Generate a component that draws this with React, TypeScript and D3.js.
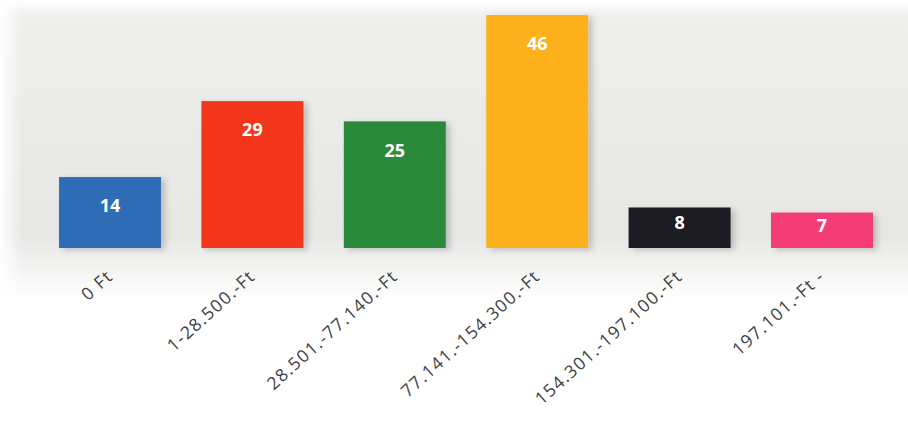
import React from "react";
import * as d3 from "d3";

const categories = [
  "0 Ft",
  "1-28.500.-Ft",
  "28.501.-77.140.-Ft",
  "77.141.-154.300.-Ft",
  "154.301.-197.100.-Ft",
  "197.101.-Ft -",
];
const values = [14, 29, 25, 46, 8, 7];
const colors = ["#2e6db5", "#f3361f", "#2b8a3a", "#fdb11d", "#1d1d22", "#f43d78"];

const W = 908;
const H = 428;

export default function App() {
  const x = d3
    .scaleBand<string>()
    .domain(categories)
    .range([38.8, 893.2])
    .paddingInner(0.284)
    .paddingOuter(0.142);
  const y = d3.scaleLinear().domain([0, 46]).range([248, 15]);
  const bw = x.bandwidth();

  return (
    <svg
      width={W}
      height={H}
      style={{ position: "absolute", left: 0, top: 0, background: "#fff" }}
    >
      <defs>
        <linearGradient id="bgv" x1="0" y1="0" x2="0" y2="1">
          <stop offset="0" stopColor="#ffffff" />
          <stop offset="0.06" stopColor="#eeeeec" />
          <stop offset="0.78" stopColor="#e7e7e5" />
          <stop offset="0.9" stopColor="#f4f4f3" />
          <stop offset="1" stopColor="#ffffff" />
        </linearGradient>
        <linearGradient id="bgh" x1="0" y1="0" x2="1" y2="0">
          <stop offset="0" stopColor="#fff" stopOpacity="1" />
          <stop offset="0.025" stopColor="#fff" stopOpacity="0" />
          <stop offset="1" stopColor="#fff" stopOpacity="0" />
        </linearGradient>
        <filter id="sh" x="-20%" y="-20%" width="140%" height="140%">
          <feDropShadow dx="4" dy="2" stdDeviation="3" floodColor="#000" floodOpacity="0.2" />
        </filter>
      </defs>
      <rect x={0} y={0} width={W} height={300} fill="url(#bgv)" />
      <rect x={0} y={0} width={W} height={300} fill="url(#bgh)" />
      {categories.map((c, i) => {
        const x0 = x(c) as number;
        const top = y(values[i]);
        const bottom = y(0);
        const ly = Math.min(top + 29, (top + bottom) / 2 - 5);
        return (
          <g key={c}>
            <rect
              x={x0}
              y={top}
              width={bw}
              height={bottom - top}
              fill={colors[i]}
              filter="url(#sh)"
            />
            <text
              x={x0 + bw / 2}
              y={ly}
              dy="0.35em"
              textAnchor="middle"
              fill="#fff"
              fontFamily="'Open Sans', sans-serif"
              fontWeight={700}
              fontSize={18}
            >
              {values[i]}
            </text>
          </g>
        );
      })}
      {categories.map((c) => {
        const cx = (x(c) as number) + bw / 2;
        return (
          <text
            key={"l" + c}
            transform={`translate(${cx + 4},${278}) rotate(-42)`}
            textAnchor="end"
            fill="#404040"
            fontFamily="'Open Sans', sans-serif"
            fontSize={17.5}
            letterSpacing={1.3}
          >
            {c}
          </text>
        );
      })}
    </svg>
  );
}
